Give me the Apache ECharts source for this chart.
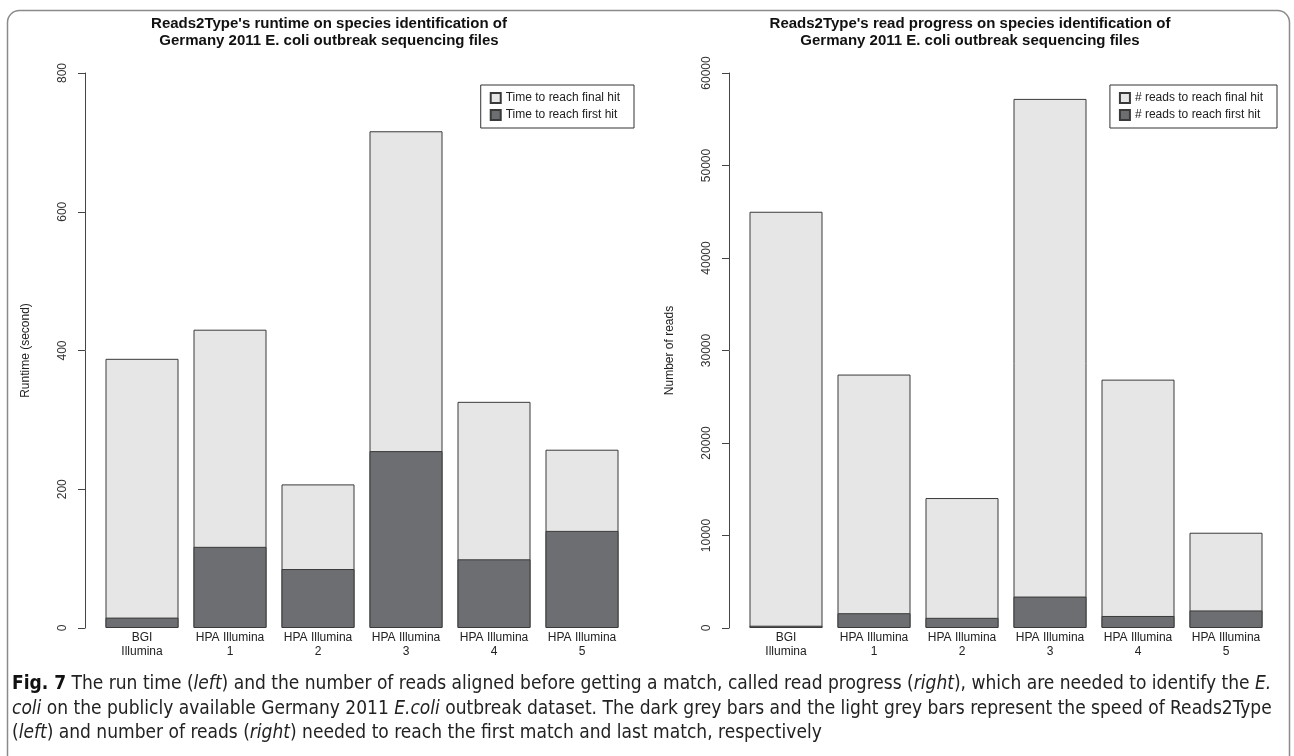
<!DOCTYPE html>
<html>
<head>
<meta charset="utf-8">
<script src="https://cdn.jsdelivr.net/npm/echarts@6/dist/echarts.min.js"></script>
<style>
html,body{margin:0;padding:0;background:#fff;}
#chart{width:1294px;height:756px;}
</style>
</head>
<body>
<div id="chart"></div>
<script>
// ---- data ----
const categories = ['BGI\nIllumina', 'HPA Illumina\n1', 'HPA Illumina\n2', 'HPA Illumina\n3', 'HPA Illumina\n4', 'HPA Illumina\n5'];
const runtimeFinal = [388, 430, 207, 716, 326, 257];
const runtimeFirst = [15, 117, 85, 255, 99, 140];
const readsFinal = [45000, 27400, 14050, 57200, 26850, 10300];
const readsFirst = [250, 1600, 1100, 3400, 1300, 1900];
const runtimeTicks = {min: 0, max: 800, interval: 200};
const readsTicks = {min: 0, max: 60000, interval: 10000};
const leftTitle = "Reads2Type's runtime on species identification of\nGermany 2011 E. coli outbreak sequencing files";
const rightTitle = "Reads2Type's read progress on species identification of\nGermany 2011 E. coli outbreak sequencing files";
const leftNames = ['Time to reach final hit', 'Time to reach first hit'];
const rightNames = ['# reads to reach final hit', '# reads to reach first hit'];

const LIGHT = '#e6e6e7';
const DARK = '#6d6e71';
const EDGE = '#3a3a3a';
const FONT = '"Liberation Sans", Arial, sans-serif';
const CAPFONT = '"DejaVu Sans Condensed", "Liberation Sans Narrow", sans-serif';

function yAxis(idx, ticks, name) {
  return {
    type: 'value', gridIndex: idx, min: ticks.min, max: ticks.max, interval: ticks.interval,
    offset: 13,
    name: name, nameLocation: 'middle', nameGap: 53, nameRotate: 90,
    nameTextStyle: {fontFamily: FONT, fontSize: 12, color: '#222'},
    axisLine: {show: true, lineStyle: {color: '#444', width: 1}},
    axisTick: {show: true, length: 7, lineStyle: {color: '#444', width: 1}},
    axisLabel: {rotate: 90, margin: 16, fontFamily: FONT, fontSize: 12, color: '#333',
                formatter: function (v) { return String(v); }},
    splitLine: {show: false}
  };
}
function xAxis(idx) {
  return {
    type: 'category', gridIndex: idx, data: categories,
    axisLine: {show: false}, axisTick: {show: false},
    axisLabel: {margin: 3, fontFamily: FONT, fontSize: 12, lineHeight: 14, color: '#222', interval: 0}
  };
}
function bars(name, data, idx, color) {
  return {
    name: name, type: 'bar', xAxisIndex: idx, yAxisIndex: idx, data: data,
    barWidth: 73, barGap: '-100%',
    itemStyle: {color: color, borderColor: EDGE, borderWidth: 1},
    emphasis: {disabled: true}, animation: false
  };
}
function legend(names, right) {
  return {
    data: names, orient: 'vertical', right: right, top: 85,
    itemWidth: 10, itemHeight: 10, itemGap: 5, icon: 'rect',
    padding: [7, 14, 7, 9],
    borderColor: '#333', borderWidth: 1, borderRadius: 0,
    textStyle: {fontFamily: FONT, fontSize: 12, color: '#222'},
    selectedMode: false
  };
}

const chart = echarts.init(document.getElementById('chart'));
chart.setOption({
  backgroundColor: '#fff',
  animation: false,
  grid: [
    {left: 98, width: 528, top: 73, height: 555},
    {left: 742, width: 528, top: 73, height: 555}
  ],
  xAxis: [xAxis(0), xAxis(1)],
  yAxis: [yAxis(0, runtimeTicks, 'Runtime (second)'), yAxis(1, readsTicks, 'Number of reads')],
  legend: [legend(leftNames, 1294 - 634), legend(rightNames, 1294 - 1277)],
  series: [
    bars(leftNames[0], runtimeFinal, 0, LIGHT),
    bars(leftNames[1], runtimeFirst, 0, DARK),
    bars(rightNames[0], readsFinal, 1, LIGHT),
    bars(rightNames[1], readsFirst, 1, DARK)
  ],
  graphic: [
    {type: 'rect', silent: true, shape: {x: 7.5, y: 10.5, width: 1282, height: 900, r: 12},
     style: {fill: 'none', stroke: '#8a8a8a', lineWidth: 1.5}},
    {type: 'text', x: 329, y: 15, silent: true,
     style: {text: leftTitle, textAlign: 'center', font: 'bold 15px ' + FONT, lineHeight: 17, fill: '#111'}},
    {type: 'text', x: 970, y: 15, silent: true,
     style: {text: rightTitle, textAlign: 'center', font: 'bold 15px ' + FONT, lineHeight: 17, fill: '#111'}},
    {type: 'text', x: 12, y: 672, silent: true,
     style: {
       text: '{b|Fig. 7} The run time ({i|left}) and the number of reads aligned before getting a match, called read progress ({i|right}), which are needed to identify the {i|E.}\n{i|coli} on the publicly available Germany 2011 {i|E.coli} outbreak dataset. The dark grey bars and the light grey bars represent the speed of Reads2Type\n({i|left}) and number of reads ({i|right}) needed to reach the first match and last match, respectively',
       fontFamily: CAPFONT, fontSize: 19, lineHeight: 24.5, fill: '#222',
       rich: {
         b: {fontWeight: 'bold', fontFamily: CAPFONT, fontSize: 19, fill: '#111'},
         i: {fontStyle: 'italic', fontFamily: CAPFONT, fontSize: 19}
       }
     }}
  ]
});
</script>
</body>
</html>
